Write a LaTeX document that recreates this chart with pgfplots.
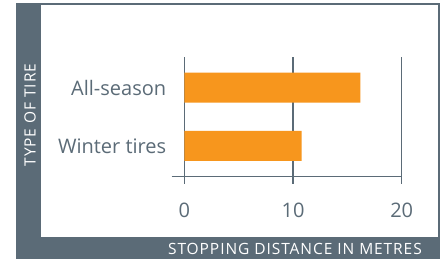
\documentclass[border=0pt]{standalone}
\usepackage{pgfplots}
\pgfplotsset{compat=1.18}
\usepackage{fontspec}
\setmainfont{Open Sans}
\definecolor{frame}{HTML}{5B6B77}
\definecolor{barc}{HTML}{F7961D}
\newcommand\framefont{\fontsize{15.5bp}{17bp}\selectfont\addfontfeatures{LetterSpace=6}}
\begin{document}
\begin{tikzpicture}
\path[use as bounding box] (0bp,0bp) rectangle (447bp,259bp);
\fill[frame] (16bp,0bp) rectangle (440bp,256bp);
\fill[white] (41bp,22bp) rectangle (438bp,254bp);
\node[white, rotate=90, anchor=base, inner sep=0pt, font=\framefont] at (35.5bp,144bp) {TYPE OF TIRE};
\node[white, anchor=base east, inner sep=0pt, font=\framefont] at (422bp,5bp) {STOPPING DISTANCE IN METRES};
\begin{axis}[
  at={(171.7bp,82.3bp)}, anchor=south west,
  scale only axis, width=230bp, height=120bp,
  xmin=-1.16, xmax=20, ymin=-0.527, ymax=1.532,
  axis x line=bottom, axis y line=left,
  x axis line style={-, draw=frame, line width=1.2bp},
  y axis line style={draw=none},
  xtick={0,10,20}, xmajorgrids, grid style={draw=frame, line width=1.2bp},
  tick align=outside, major tick length=7bp,
  xtick style={draw=frame, line width=1.2bp},
  ytick={0,1}, yticklabels={Winter tires, All-season}, ytick style={draw=none},
  ticklabel style={font=\fontsize{20bp}{22bp}\selectfont, text=frame},
  /pgf/number format/assume math mode=true,
  xticklabel style={anchor=base, yshift=-34bp},
  yticklabel style={anchor=east, xshift=5bp},
  xbar, bar width=30bp, bar shift=0pt,
  clip=false,
]
\addplot[fill=barc, draw=none] coordinates {(10.8,0) (16.2,1)};
\end{axis}
\end{tikzpicture}
\end{document}
